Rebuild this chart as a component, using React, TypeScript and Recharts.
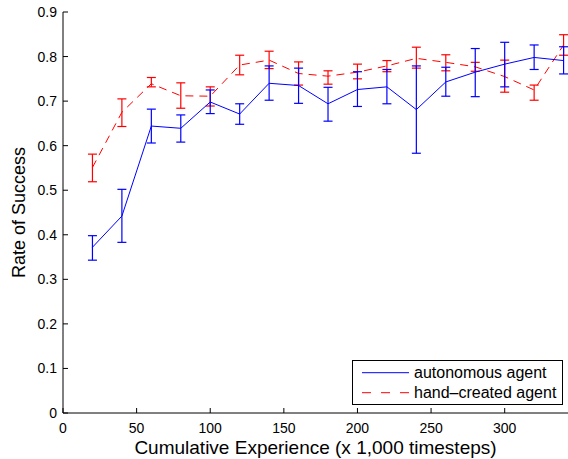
import React from 'react';
import { LineChart, Line, XAxis, YAxis, ErrorBar, Legend } from 'recharts';

const steps = [20, 40, 60, 80, 100, 120, 140, 160, 180, 200, 220, 240, 260, 280, 300, 320, 340];

const autoMean = [0.372, 0.442, 0.644, 0.639, 0.698, 0.671, 0.740, 0.735, 0.694, 0.726, 0.732, 0.681, 0.743, 0.765, 0.783, 0.798, 0.791];
const autoLow = [0.343, 0.383, 0.606, 0.608, 0.672, 0.648, 0.702, 0.695, 0.655, 0.688, 0.694, 0.583, 0.711, 0.710, 0.732, 0.771, 0.761];
const autoHigh = [0.398, 0.502, 0.682, 0.669, 0.725, 0.694, 0.779, 0.774, 0.731, 0.766, 0.771, 0.779, 0.776, 0.818, 0.832, 0.826, 0.822];

const handMean = [0.551, 0.675, 0.739, 0.712, 0.711, 0.781, 0.792, 0.762, 0.756, 0.765, 0.779, 0.796, 0.787, 0.777, 0.755, 0.725, 0.826];
const handLow = [0.519, 0.643, 0.732, 0.684, 0.689, 0.759, 0.773, 0.736, 0.738, 0.750, 0.766, 0.774, 0.768, 0.767, 0.720, 0.702, 0.803];
const handHigh = [0.581, 0.705, 0.753, 0.741, 0.732, 0.803, 0.812, 0.788, 0.768, 0.783, 0.791, 0.821, 0.804, 0.787, 0.792, 0.736, 0.849];

const xTicks = [0, 50, 100, 150, 200, 250, 300];
const yTicks = [0, 0.1, 0.2, 0.3, 0.4, 0.5, 0.6, 0.7, 0.8, 0.9];

const seriesNames = ['autonomous agent', 'hand\u2013created agent'];
const xTitle = 'Cumulative Experience (x 1,000 timesteps)';
const yTitle = 'Rate of Success';

const FONT = '"Liberation Sans", Arial, Helvetica, sans-serif';
const BLUE = '#0000ff';
const RED = '#ff0000';

const rows = steps.map((s, i) => ({
  step: s,
  auto: autoMean[i],
  autoErr: [autoMean[i] - autoLow[i], autoHigh[i] - autoMean[i]],
  hand: handMean[i],
  handErr: [handMean[i] - handLow[i], handHigh[i] - handMean[i]],
}));

const LegendBox = () => (
  <svg width={212} height={46} style={{ display: 'block' }}>
    <rect x={0.5} y={0.5} width={210} height={44} fill="#ffffff" stroke="#000000" strokeWidth={1} />
    <line x1={10} x2={57} y1={12.7} y2={12.7} stroke={BLUE} strokeWidth={1} />
    <text x={62} y={18.4} fontSize={16} fontFamily={FONT} fill="#000">{seriesNames[0]}</text>
    <line x1={10} x2={57} y1={32.7} y2={32.7} stroke={RED} strokeWidth={1} strokeDasharray="9 10" />
    <text x={62} y={38.4} fontSize={16} fontFamily={FONT} fill="#000">{seriesNames[1]}</text>
  </svg>
);

export default function App() {
  return (
    <div style={{ position: 'absolute', left: 0, top: 0, background: '#fff' }}>
      <LineChart width={568} height={459} data={rows} margin={{ top: 12, right: 0, left: 0, bottom: 0 }}>
        <XAxis
          dataKey="step"
          type="number"
          domain={[0, 343]}
          allowDataOverflow
          ticks={xTicks}
          height={46}
          stroke="#000"
          tickSize={-5}
          tickMargin={15}
          tick={{ fill: '#000', fontSize: 14, fontFamily: FONT }}
          label={{ value: xTitle, position: 'insideBottom', offset: 5, fill: '#000', fontSize: 19, fontFamily: FONT }}
        />
        <YAxis
          type="number"
          domain={[0, 0.9]}
          allowDataOverflow
          ticks={yTicks}
          width={63}
          stroke="#000"
          tickSize={-5}
          tickMargin={11}
          tickFormatter={(v: number) => String(v)}
          tick={{ fill: '#000', fontSize: 14, fontFamily: FONT }}
          label={{ value: yTitle, angle: -90, position: 'insideLeft', offset: 18.5, fill: '#000', fontSize: 18, fontFamily: FONT, style: { textAnchor: 'middle' } }}
        />
        <Legend
          layout="vertical"
          verticalAlign="middle"
          align="center"
          content={() => <LegendBox />}
          wrapperStyle={{ left: 352, top: 360, width: 212, height: 46 }}
        />
        <Line
          dataKey="hand"
          stroke={RED}
          strokeWidth={1}
          strokeDasharray="8 6"
          dot={false}
          isAnimationActive={false}
        >
          <ErrorBar dataKey="handErr" direction="y" width={4.5} stroke={RED} strokeWidth={1.2} isAnimationActive={false} />
        </Line>
        <Line
          dataKey="auto"
          stroke={BLUE}
          strokeWidth={1}
          dot={false}
          isAnimationActive={false}
        >
          <ErrorBar dataKey="autoErr" direction="y" width={4.5} stroke={BLUE} strokeWidth={1.2} isAnimationActive={false} />
        </Line>
      </LineChart>
    </div>
  );
}
